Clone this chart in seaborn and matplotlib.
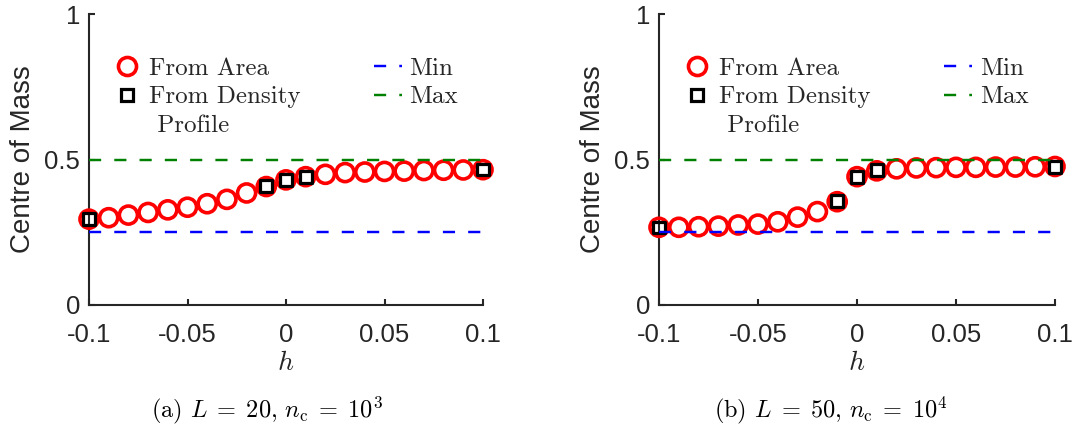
import matplotlib
matplotlib.use("Agg")
import matplotlib.pyplot as plt
from matplotlib.lines import Line2D
import seaborn as sns
import pandas as pd

# ---------------- data ----------------
h_vals = [-0.10, -0.09, -0.08, -0.07, -0.06, -0.05, -0.04, -0.03, -0.02, -0.01,
          0.00, 0.01, 0.02, 0.03, 0.04, 0.05, 0.06, 0.07, 0.08, 0.09, 0.10]
area_a = [0.295, 0.300, 0.309, 0.318, 0.327, 0.336, 0.348, 0.363, 0.385, 0.407,
          0.430, 0.441, 0.449, 0.455, 0.457, 0.459, 0.460, 0.462, 0.463, 0.464, 0.465]
area_b = [0.267, 0.267, 0.269, 0.271, 0.275, 0.278, 0.286, 0.302, 0.321, 0.355,
          0.441, 0.461, 0.468, 0.471, 0.472, 0.473, 0.473, 0.474, 0.474, 0.475, 0.476]
h_dens = [-0.10, -0.01, 0.00, 0.01, 0.10]
dens_a = [0.295, 0.408, 0.429, 0.440, 0.466]
dens_b = [0.266, 0.357, 0.441, 0.463, 0.474]
h_range = [-0.10, 0.10]
min_val = [0.25, 0.25]
max_val = [0.50, 0.50]
xtick_vals = [-0.1, -0.05, 0, 0.05, 0.1]
xtick_labels = ["-0.1", "-0.05", "0", "0.05", "0.1"]
ytick_vals = [0, 0.5, 1]
ytick_labels = ["0", "0.5", "1"]
captions = [r"(a) $L\;=\;20,\,n_{\mathrm{c}}\;=\;10^3$", r"(b) $L\;=\;50,\,n_{\mathrm{c}}\;=\;10^4$"]
legend_labels = ["From Area", "From Density", " Profile", "Min", "Max"]

# ---------------- style ----------------
sns.set_style("white")
plt.rcParams["font.family"] = ["Liberation Sans", "DejaVu Sans"]
plt.rcParams["mathtext.fontset"] = "cm"
plt.rcParams["axes.unicode_minus"] = False

RED = "#ff0000"
BLUE = "#0000ff"
GREEN = "#008000"
AX_COL = "#262626"
LW = 1.75
DASH = (0, (5.0, 5.4))

fig = plt.figure(figsize=(10.77, 4.29), dpi=100)
ax_pos = [
    [89 / 1077, (429 - 305) / 429, 394 / 1077, 291 / 429],
    [659 / 1077, (429 - 305) / 429, 396 / 1077, 291 / 429],
]
caption_x = [267 / 1077, 831 / 1077]

panels = [(area_a, dens_a), (area_b, dens_b)]

for i, (area, dens) in enumerate(panels):
    ax = fig.add_axes(ax_pos[i])
    df_area = pd.DataFrame({"h": h_vals, "com": area})
    df_dens = pd.DataFrame({"h": h_dens, "com": dens})
    df_min = pd.DataFrame({"h": h_range, "v": min_val})
    df_max = pd.DataFrame({"h": h_range, "v": max_val})

    sns.scatterplot(data=df_area, x="h", y="com", ax=ax, marker="o", s=169,
                    facecolor="none", edgecolor=RED, linewidth=2.6, zorder=3,
                    legend=False, clip_on=False)
    sns.scatterplot(data=df_dens, x="h", y="com", ax=ax, marker="s", s=72,
                    facecolor="none", edgecolor="black", linewidth=2.3, zorder=4,
                    legend=False, clip_on=False)
    sns.lineplot(data=df_min, x="h", y="v", ax=ax, color=BLUE, linewidth=LW,
                 linestyle=DASH, zorder=5, legend=False)
    sns.lineplot(data=df_max, x="h", y="v", ax=ax, color=GREEN, linewidth=LW,
                 linestyle=DASH, zorder=5, legend=False)

    ax.set_xlim(-0.1, 0.1)
    ax.set_ylim(0, 1)
    ax.set_xticks(xtick_vals)
    ax.set_xticklabels(xtick_labels)
    ax.set_yticks(ytick_vals)
    ax.set_yticklabels(ytick_labels)
    ax.tick_params(axis="x", bottom=True, direction="in", length=4, width=1.5,
                   color=AX_COL, labelsize=18.5, labelcolor=AX_COL, pad=13)
    ax.tick_params(axis="y", left=True, direction="in", length=4, width=1.5,
                   color=AX_COL, labelsize=18.5, labelcolor=AX_COL, pad=6.5)
    for side in ["top", "right"]:
        ax.spines[side].set_visible(False)
    for side in ["left", "bottom"]:
        ax.spines[side].set_color(AX_COL)
        ax.spines[side].set_linewidth(1.5)
    ax.set_ylabel("Centre of Mass", fontsize=20, color=AX_COL, labelpad=6)
    ax.set_xlabel(r"$h$", fontsize=20, color=AX_COL, labelpad=2)

    handles = [
        Line2D([], [], linestyle="none", marker="o", markersize=13,
               markerfacecolor="none", markeredgecolor=RED, markeredgewidth=2.6),
        Line2D([], [], linestyle="none", marker="s", markersize=8.5,
               markerfacecolor="none", markeredgecolor="black", markeredgewidth=2.3),
        Line2D([], [], linestyle="none"),
        Line2D([], [], color=BLUE, linewidth=LW, linestyle=DASH),
        Line2D([], [], color=GREEN, linewidth=LW, linestyle=DASH),
    ]
    ax.legend(handles, legend_labels, ncol=2, loc="upper left",
              bbox_to_anchor=(0.061, 0.852), frameon=False, borderpad=0,
              handlelength=1.1, handletextpad=0.32, columnspacing=2.96,
              labelspacing=0.25, borderaxespad=0,
              prop={"family": "cmr10", "size": 18})

    fig.text(caption_x[i], (429 - 410) / 429, captions[i], ha="center", va="center",
             fontsize=17.5, family="cmr10", color="black")

fig.savefig("out.png", dpi=100)
